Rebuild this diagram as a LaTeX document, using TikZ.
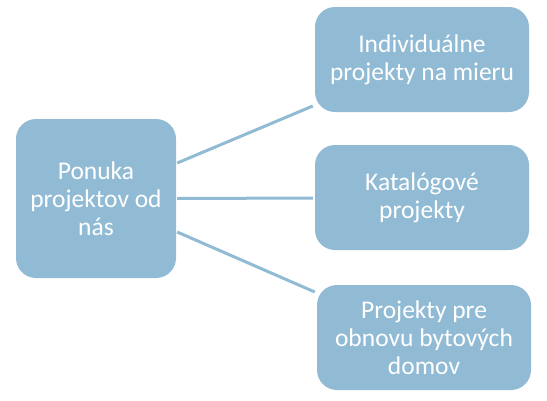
\documentclass[tikz,border=0pt]{standalone}
\usepackage{fontspec}
\setmainfont{Carlito}
\definecolor{boxblue}{RGB}{145,187,212}
\begin{document}
\begin{tikzpicture}[x=1pt,y=1pt,
  box/.style={fill=boxblue, draw=none, rounded corners=20pt, text=white,
    align=center, font=\fontsize{25.5}{28}\selectfont, inner sep=0pt},
  link/.style={draw=boxblue, line width=3pt}]
\useasboundingbox (0,0) rectangle (547,-400);
\node[box, minimum width=160pt, minimum height=159pt] (root) at (96,-198.5) {Ponuka\\projektov od\\nás};
\node[box, minimum width=214pt, minimum height=105pt] (top) at (422,-59.5) {Individuálne\\projekty na mieru};
\node[box, minimum width=214pt, minimum height=105pt] (mid) at (422,-197.5) {Katalógové\\projekty};
\node[box, minimum width=214pt, minimum height=105pt] (bot) at (424,-337.5) {Projekty pre\\obnovu bytových\\domov};
\draw[link] ([yshift=35.5pt,xshift=1pt]root.east) -- ([yshift=-46.5pt,xshift=-2pt]top.west);
\draw[link] ([xshift=1pt]root.east) -- ([xshift=-2pt,yshift=-0.5pt]mid.west);
\draw[link] ([yshift=-33.5pt,xshift=1pt]root.east) -- ([yshift=45.5pt,xshift=-2pt]bot.west);
\end{tikzpicture}
\end{document}
